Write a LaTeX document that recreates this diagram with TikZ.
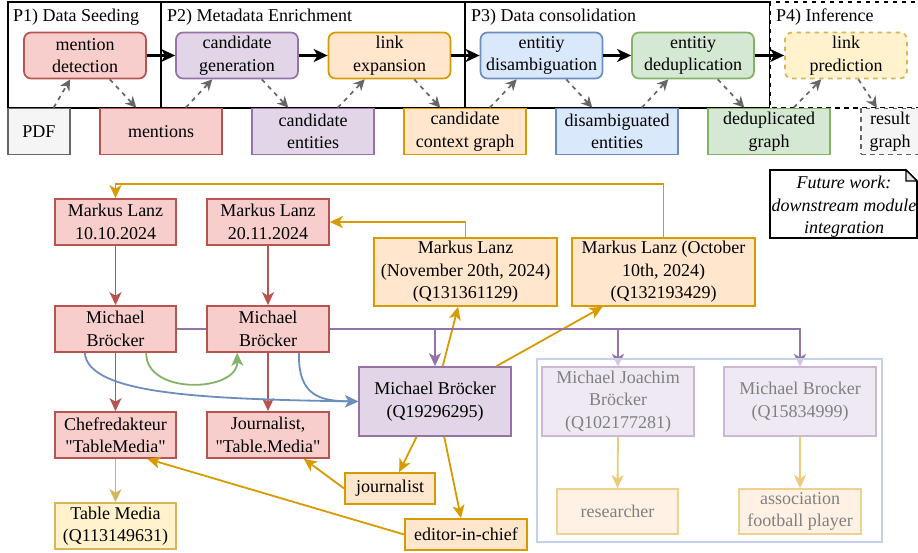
\documentclass[tikz,border=0pt]{standalone}
\usepackage{fontspec}
\setmainfont{Liberation Serif}
\usetikzlibrary{arrows.meta,calc}
\definecolor{rF}{HTML}{F8CECC}\definecolor{rS}{HTML}{B85450}
\definecolor{pF}{HTML}{E1D5E7}\definecolor{pS}{HTML}{9673A6}
\definecolor{oF}{HTML}{FFE6CC}\definecolor{oS}{HTML}{D79B00}
\definecolor{bF}{HTML}{DAE8FC}\definecolor{bS}{HTML}{6C8EBF}
\definecolor{gF}{HTML}{D5E8D4}\definecolor{gS}{HTML}{82B366}
\definecolor{yF}{HTML}{FFF2CC}\definecolor{yS}{HTML}{D6B656}
\definecolor{kF}{HTML}{F5F5F5}\definecolor{kS}{HTML}{666666}
\definecolor{fpF}{HTML}{EFE9F3}\definecolor{fpS}{HTML}{CBB8D5}
\definecolor{foF}{HTML}{FFF2E5}\definecolor{foS}{HTML}{F0D28F}
\definecolor{fyS}{HTML}{ECCB7A}
\definecolor{fT}{HTML}{808080}
\definecolor{cbS}{HTML}{C3D1E9}
\definecolor{noteF}{HTML}{E6E6E6}
\newcommand\fsz{\fontsize{18}{22.5}\selectfont}
\newcommand\qq{\textquotedbl}
\begin{document}
\begin{tikzpicture}[x=1pt,y=-1pt,
  every node/.style={font=\fsz, text=black},
  bx/.style={draw, line width=1.7pt, align=center, inner sep=0pt},
  proc/.style={bx, rounded corners=7pt, minimum width=122pt, minimum height=46pt},
  dat/.style={bx, minimum width=122pt, minimum height=46pt},
  flow/.style={line width=2.6pt, -{Stealth[length=14pt,width=13pt,inset=4pt]}},
  io/.style={kS, line width=1.7pt, dash pattern=on 4.5pt off 4.5pt, -{Stealth[length=11pt,width=11pt,inset=3.5pt]}},
  dsh/.style={dash pattern=on 4.5pt off 4.5pt},
  ed/.style={line width=1.8pt, -{Stealth[length=13pt,width=12pt,inset=3.5pt]}},
  ttl/.style={anchor=west, inner sep=0pt}
]
\useasboundingbox (0,0) rectangle (918,553);
% phase frames
\draw[line width=1.6pt] (8,2) rectangle (161,108);
\draw[line width=1.6pt] (161,2) rectangle (465,108);
\draw[line width=1.6pt] (465,2) rectangle (770,108);
\draw[line width=1.6pt, dsh, fill=white] (770,2) rectangle (930,108);
\node[ttl] (t1) at (13,17.5) {P1) Data Seeding};
\node[ttl] (t2) at (167,17.5) {P2) Metadata Enrichment};
\node[ttl] (t3) at (471,17.5) {P3) Data consolidation};
\node[ttl] (t4) at (776,17.5) {P4) Inference};
% processes
\node[proc, fill=rF, draw=rS] (md) at (85,55.5) {mention\\detection};
\node[proc, fill=pF, draw=pS] (cg) at (237,55.5) {candidate\\generation};
\node[proc, fill=oF, draw=oS] (le) at (389.5,55.5) {link\\expansion};
\node[proc, fill=bF, draw=bS] (edis) at (541.5,55.5) {entitiy\\disambiguation};
\node[proc, fill=gF, draw=gS] (edd) at (693,55.5) {entitiy\\deduplication};
\node[proc, fill=yF, draw=yS, dsh] (lp) at (846,55.5) {link\\prediction};
% data
\node[dat, fill=kF, draw=kS, minimum width=62pt] (pdf) at (39,131.5) {PDF};
\node[dat, fill=rF, draw=rS] (men) at (161,131.5) {mentions};
\node[dat, fill=pF, draw=pS] (ce) at (313,131.5) {candidate\\entities};
\node[dat, fill=oF, draw=oS] (ccg) at (465,131.5) {candidate\\context graph};
\node[dat, fill=bF, draw=bS] (de) at (617,131.5) {disambiguated\\entities};
\node[dat, fill=gF, draw=gS] (dg) at (769,131.5) {deduplicated\\graph};
\node[dat, fill=kF, draw=kS, dsh, minimum width=58pt] (rg) at (890,131.5) {result\\graph};
% flow arrows
\draw[flow] (md.east) -- (cg.west);
\draw[flow] (cg.east) -- (le.west);
\draw[flow] (le.east) -- (edis.west);
\draw[flow] (edis.east) -- (edd.west);
\draw[flow] (edd.east) -- (lp.west);
% io arrows
\draw[io] ($(pdf.north west)!0.73!(pdf.north east)$) -- ($(md.south west)!0.38!(md.south east)$);
\draw[io] ($(md.south west)!0.7!(md.south east)$) -- ($(men.north west)!0.3!(men.north east)$);
\draw[io] ($(men.north west)!0.7!(men.north east)$) -- ($(cg.south west)!0.3!(cg.south east)$);
\draw[io] ($(cg.south west)!0.7!(cg.south east)$) -- ($(ce.north west)!0.3!(ce.north east)$);
\draw[io] ($(ce.north west)!0.7!(ce.north east)$) -- ($(le.south west)!0.3!(le.south east)$);
\draw[io] ($(le.south west)!0.7!(le.south east)$) -- ($(ccg.north west)!0.3!(ccg.north east)$);
\draw[io] ($(ccg.north west)!0.7!(ccg.north east)$) -- ($(edis.south west)!0.3!(edis.south east)$);
\draw[io] ($(edis.south west)!0.7!(edis.south east)$) -- ($(de.north west)!0.3!(de.north east)$);
\draw[io] ($(de.north west)!0.7!(de.north east)$) -- ($(edd.south west)!0.3!(edd.south east)$);
\draw[io] ($(edd.south west)!0.7!(edd.south east)$) -- ($(dg.north west)!0.3!(dg.north east)$);
\draw[io] ($(dg.north west)!0.7!(dg.north east)$) -- ($(lp.south west)!0.3!(lp.south east)$);
\draw[io] ($(lp.south west)!0.6!(lp.south east)$) -- ($(rg.north west)!0.28!(rg.north east)$);
% note
\draw[line width=1.6pt, fill=white] (770,170) -- (906,170) -- (917,181) -- (917,238) -- (770,238) -- cycle;
\draw[line width=1.2pt, fill=noteF] (906,170) -- (906,181) -- (917,181) -- cycle;
\node[align=center, inner sep=0pt, font=\fsz\itshape] (note) at (844,207) {Future work:\\downstream module\\integration};
% graph nodes
\node[dat, fill=rF, draw=rS, minimum width=121pt] (ml1) at (115.5,222) {Markus Lanz\\10.10.2024};
\node[dat, fill=rF, draw=rS] (ml2) at (268,222) {Markus Lanz\\20.11.2024};
\node[dat, fill=rF, draw=rS, minimum width=121pt] (mb1) at (115.5,329) {Michael\\Bröcker};
\node[dat, fill=rF, draw=rS] (mb2) at (268,329) {Michael\\Bröcker};
\node[dat, fill=rF, draw=rS, minimum width=121pt] (chef) at (115.5,435) {Chefredakteur\\\qq TableMedia\qq};
\node[dat, fill=rF, draw=rS] (jour) at (268,435) {Journalist,\\\qq Table.Media\qq};
\node[dat, fill=yF, draw=yS, minimum width=121pt] (tm) at (115.5,526) {Table Media\\(Q113149631)};
\node[bx, fill=pF, draw=pS, minimum width=152pt, minimum height=69pt] (mbq) at (435,401.5) {Michael Bröcker\\(Q19296295)};
\node[bx, fill=oF, draw=oS, minimum width=183pt, minimum height=68pt] (mln) at (465.5,272) {Markus Lanz\\(November 20th, 2024)\\(Q131361129)};
\node[bx, fill=oF, draw=oS, minimum width=183pt, minimum height=68pt] (mlo) at (663.5,272) {Markus Lanz (October\\10th, 2024)\\(Q132193429)};
\node[bx, fill=oF, draw=oS, minimum width=90pt, minimum height=31pt] (jn) at (390,488.5) {journalist};
\node[bx, fill=oF, draw=oS, minimum width=122pt, minimum height=31pt] (eic) at (466,534.5) {editor-in-chief};
% red edges
\draw[ed, rS] (ml1.south) -- (mb1.north);
\draw[ed, rS] (ml2.south) -- (mb2.north);
\draw[ed, rS] (mb1.south) -- (chef.north);
\draw[ed, rS] (mb2.south) -- (jour.north);
\draw[ed, yS] (chef.south) -- (tm.north);
% blue and green curves
\draw[ed, bS] ($(mb1.south west)!0.25!(mb1.south east)$) .. controls (88,394) and (200,399) .. (mbq.west);
\draw[ed, bS] ($(mb2.south west)!0.75!(mb2.south east)$) .. controls (298,396) and (320,401) .. (mbq.west);
\draw[ed, gS] ($(mb1.south west)!0.75!(mb1.south east)$) .. controls (146,396) and (238,392) .. ($(mb2.south west)!0.25!(mb2.south east)$);
% orange edges
\draw[ed, oS] ($(mbq.north west)!0.55!(mbq.north east)$) -- ($(mln.south west)!0.46!(mln.south east)$);
\draw[ed, oS] ($(mbq.north west)!0.9!(mbq.north east)$) -- ($(mlo.south west)!0.17!(mlo.south east)$);
\draw[ed, oS] (mln.north) |- (ml2.east);
\coordinate (tl) at (0,184);
\draw[ed, oS] (mlo.north) -- (mlo.north |- tl) -| (ml1.north);
\draw[ed, oS] ($(mbq.south west)!0.38!(mbq.south east)$) -- ($(jn.north west)!0.6!(jn.north east)$);
\draw[ed, oS] ($(mbq.south west)!0.56!(mbq.south east)$) -- ($(eic.north west)!0.46!(eic.north east)$);
\draw[ed, oS] (jn.west) -- ($(jour.south west)!0.79!(jour.south east)$);
\draw[ed, oS] (eic.west) -- ($(chef.south west)!0.76!(chef.south east)$);
% purple edges
\draw[line width=1.8pt, pS] (mb1.east) -- (mb2.west);
\node[inner sep=0pt, minimum size=0pt] (mjbtop) at (618,367) {};
\node[inner sep=0pt, minimum size=0pt] (mbrtop) at (800,367) {};
\draw[ed, pS] (mb2.east) -| (mbq.north);
\draw[ed, pS] (mb2.east) -| (mjbtop);
\draw[ed, pS] (mb2.east) -| (mbrtop);
% faded group
\draw[cbS, line width=1.6pt, fill=white, fill opacity=0.6] (537,359) rectangle (882,542);
\node[bx, fill=fpF, draw=fpS, text=fT, minimum width=152pt, minimum height=69pt] (mjb) at (618,401.5) {Michael Joachim\\Bröcker\\(Q102177281)};
\node[bx, fill=fpF, draw=fpS, text=fT, minimum width=152pt, minimum height=69pt] (mbr) at (800,401.5) {Michael Brocker\\(Q15834999)};
\node[bx, fill=foF, draw=foS, text=fT, minimum width=121pt, minimum height=45pt] (res) at (617.5,511.5) {researcher};
\node[bx, fill=foF, draw=foS, text=fT, minimum width=122pt, minimum height=45pt] (afp) at (800,511.5) {association\\football player};
\draw[ed, fyS] (mjb.south) -- (res.north);
\draw[ed, fyS] (mbr.south) -- (afp.north);
\end{tikzpicture}
\end{document}
